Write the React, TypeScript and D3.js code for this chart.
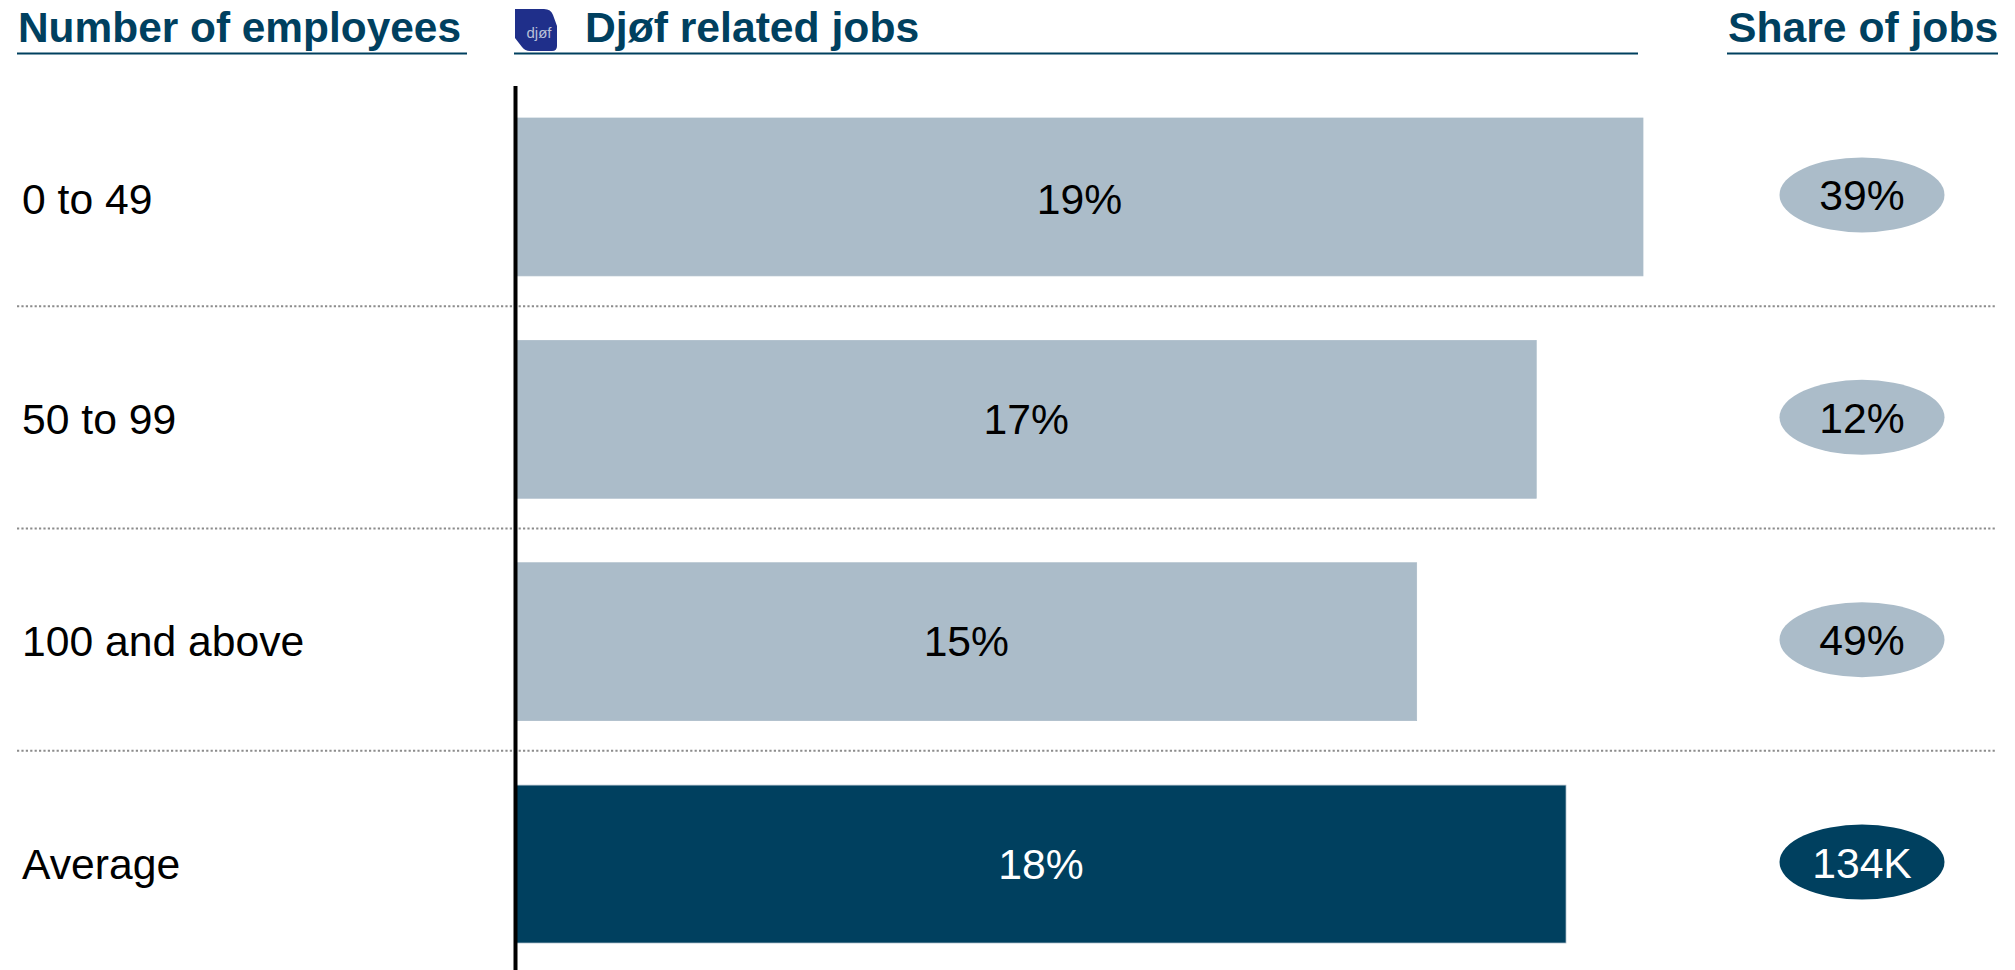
import React from "react";
import * as d3 from "d3";

// Share of Djøf related jobs by company size
const categories = ["0 to 49", "50 to 99", "100 and above", "Average"];
const djofShare = [19.32, 17.49, 15.44, 18.0];
const shareLabels = ["39%", "12%", "49%", "134K"];
const headers = ["Number of employees", "Djøf related jobs", "Share of jobs"];

const WIDTH = 2015;
const HEIGHT = 970;
const FONT = "'Liberation Sans', Arial, sans-serif";
const NAVY = "#00405f";
const STEEL = "#abbcc9";

export default function App() {
  const x = d3.scaleLinear().domain([0, 18]).range([516, 1566]);
  const y = d3
    .scaleBand<string>()
    .domain(categories)
    .range([118, 943])
    .paddingInner(0.29)
    .paddingOuter(0);
  const pct = d3.format(".0f");
  const isTotal = (c: string) => c === "Average";
  const rowMid = (c: string) => (y(c) as number) + y.bandwidth() / 2;
  const gap = y.step() - y.bandwidth();
  const separators = categories.slice(1).map((c) => (y(c) as number) - gap / 2 - 2);

  return (
    <svg
      width={WIDTH}
      height={HEIGHT}
      viewBox={`0 0 ${WIDTH} ${HEIGHT}`}
      style={{ position: "absolute", left: 0, top: 0, background: "#fff" }}
      fontFamily={FONT}
    >
      {/* column headings */}
      <g fontSize={42.67} fontWeight={700} fill={NAVY}>
        <text x={18} y={41.5} textLength={443} lengthAdjust="spacingAndGlyphs">{headers[0]}</text>
        <text x={585} y={41.5}>{headers[1]}</text>
        <text x={1728} y={41.5}>{headers[2]}</text>
      </g>
      <g stroke={NAVY} strokeWidth={2}>
        <line x1={17} x2={467} y1={53.5} y2={53.5} />
        <line x1={514} x2={1638} y1={53.5} y2={53.5} />
        <line x1={1727} x2={1998} y1={53.5} y2={53.5} />
      </g>

      {/* Djøf badge */}
      <path
        d="M515 9 H544 Q551 9 553 15 L557 26 V46 Q557 51 552 51 H530 Q525 51 522 47 L515 38 Z"
        fill="#1f2f8a"
      />
      <text x={539} y={38} fontSize={15} textAnchor="middle" fill="#b9c0d8">djøf</text>

      {/* row separators */}
      <g stroke="#8c8c8c" strokeWidth={2} strokeDasharray="2.2 2.2">
        {separators.map((sy) => (
          <line key={sy} x1={17} x2={1996} y1={sy} y2={sy} />
        ))}
      </g>

      {/* bars with centred values */}
      {categories.map((c, i) => {
        const labelY = rowMid(c) + (i === 0 ? 17 : 14.5);
        return (
          <g key={c}>
            <rect
              x={x(0)}
              y={y(c)}
              width={x(djofShare[i]) - x(0)}
              height={y.bandwidth()}
              fill={isTotal(c) ? NAVY : STEEL}
              stroke={STEEL}
              strokeWidth={0.75}
            />
            <text
              x={(x(0) + x(djofShare[i])) / 2}
              y={labelY}
              fontSize={42.67}
              textAnchor="middle"
              fill={isTotal(c) ? "#fff" : "#000"}
            >
              {pct(djofShare[i])}%
            </text>
            <text x={22} y={labelY} fontSize={42.67} fill="#000">{c}</text>
            <ellipse
              cx={1862}
              cy={rowMid(c) - 2}
              rx={82.5}
              ry={37.5}
              fill={isTotal(c) ? NAVY : STEEL}
            />
            <text
              x={1862}
              y={rowMid(c) + 13.5}
              fontSize={42.67}
              textAnchor="middle"
              fill={isTotal(c) ? "#fff" : "#000"}
            >
              {shareLabels[i]}
            </text>
          </g>
        );
      })}

      {/* baseline */}
      <line x1={515.5} x2={515.5} y1={86} y2={970} stroke="#000" strokeWidth={4} />
    </svg>
  );
}
